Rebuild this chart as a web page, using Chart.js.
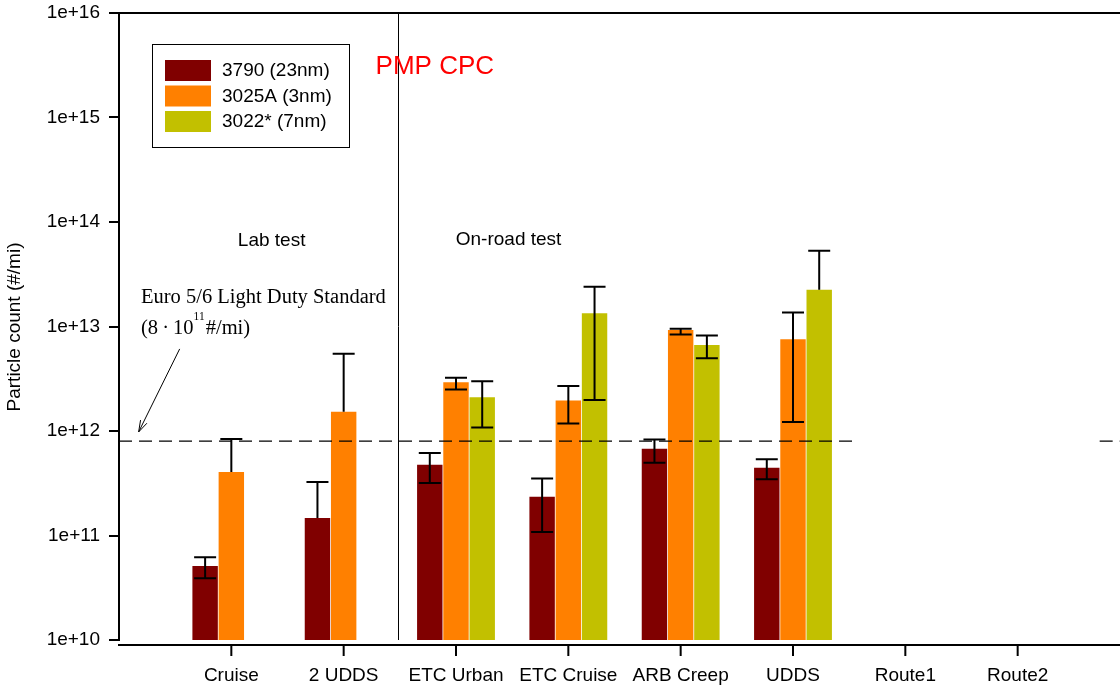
<!DOCTYPE html>
<html lang="en">
<head>
<meta charset="UTF-8">
<title>PMP CPC particle count</title>
<script src="https://cdn.jsdelivr.net/npm/chart.js"></script>
<style>
  * { margin: 0; padding: 0; box-sizing: border-box; }
  html, body { width: 1120px; height: 687px; overflow: hidden; background: #fff; }
  canvas { display: block; }
</style>
</head>
<body>
<canvas id="chart" width="1140" height="687"></canvas>
<script>
// categories on the x axis
const categories = ['Cruise', '2 UDDS', 'ETC Urban', 'ETC Cruise', 'ARB Creep', 'UDDS', 'Route1', 'Route2'];
const seriesNames = ['3790 (23nm)', '3025A (3nm)', '3022* (7nm)'];
const yTicks = [1e10, 1e11, 1e12, 1e13, 1e14, 1e15, 1e16];
const euroLimit = 8e11;

// bar heights (#/mi)
const cpc3790  = [5.1e10, 1.47e11, 4.76e11, 2.35e11, 6.77e11, 4.45e11, null, null];
const cpc3025A = [4.05e11, 1.53e12, 2.92e12, 1.96e12, 9.26e12, 7.54e12, null, null];
const cpc3022  = [null, null, 2.1e12, 1.34e13, 6.65e12, 2.25e13, null, null];

// error bar ends (null low = only the upper whisker is drawn)
const hi3790  = [6.2e10, 3.25e11, 6.16e11, 3.52e11, 8.3e11, 5.36e11, null, null];
const lo3790  = [3.9e10, null, 3.18e11, 1.08e11, 4.97e11, 3.45e11, null, null];
const hi3025A = [8.4e11, 5.5e12, 3.24e12, 2.69e12, 9.5e12, 1.36e13, null, null];
const lo3025A = [null, null, 2.5e12, 1.18e12, 8.4e12, 1.22e12, null, null];
const hi3022  = [null, null, 3.0e12, 2.4e13, 8.2e12, 5.3e13, null, null];
const lo3022  = [null, null, 1.08e12, 1.98e12, 4.97e12, null, null, null];

const colors = ['#800000', '#ff8000', '#c2c000'];
const SANS = '"Liberation Sans", Arial, sans-serif';
const SERIF = '"Liberation Serif", "Times New Roman", serif';

// blank slot before the first and after the last category
const pad = arr => [null, ...arr, null];
const labels = ['', ...categories, ''];

const datasets = [
  { data: cpc3790, hi: hi3790, lo: lo3790 },
  { data: cpc3025A, hi: hi3025A, lo: lo3025A },
  { data: cpc3022, hi: hi3022, lo: lo3022 }
].map((s, i) => ({
  label: seriesNames[i],
  data: pad(s.data),
  errHigh: pad(s.hi),
  errLow: pad(s.lo),
  backgroundColor: colors[i],
  borderWidth: 0,
  categoryPercentage: 0.7,
  barPercentage: 0.97
}));

const overlay = {
  id: 'overlay',
  afterDatasetsDraw(chart) {
    const { ctx, scales: { x, y } } = chart;
    ctx.save();
    ctx.strokeStyle = '#000';
    ctx.lineWidth = 2;
    // error bars
    chart.data.datasets.forEach((ds, i) => {
      chart.getDatasetMeta(i).data.forEach((bar, j) => {
        const hi = ds.errHigh[j];
        if (hi == null) return;
        const lo = ds.errLow[j];
        const yHi = y.getPixelForValue(hi);
        const yLo = lo == null ? bar.y : y.getPixelForValue(lo);
        ctx.beginPath();
        ctx.moveTo(bar.x, yHi);
        ctx.lineTo(bar.x, yLo);
        ctx.moveTo(bar.x - 11, yHi);
        ctx.lineTo(bar.x + 11, yHi);
        if (lo != null) {
          ctx.moveTo(bar.x - 11, yLo);
          ctx.lineTo(bar.x + 11, yLo);
        }
        ctx.stroke();
      });
    });
    // Euro 5/6 limit line
    const yl = y.getPixelForValue(euroLimit);
    ctx.lineWidth = 1.3;
    ctx.setLineDash([13, 7]);
    ctx.beginPath();
    ctx.moveTo(x.getPixelForValue(0), yl);
    ctx.lineTo(x.getPixelForValue(6.54), yl);
    ctx.moveTo(x.getPixelForValue(8.73), yl);
    ctx.lineTo(x.getPixelForValue(9), yl);
    ctx.stroke();
    ctx.restore();
  },
  afterDraw(chart) {
    const { ctx, chartArea: a, scales: { x, y } } = chart;
    ctx.save();
    ctx.strokeStyle = '#000';

    // top frame line
    ctx.lineWidth = 2;
    ctx.beginPath();
    ctx.moveTo(a.left - 1, a.top);
    ctx.lineTo(a.right, a.top);
    ctx.stroke();

    // detached x axis with tick marks
    const ax = a.bottom + 5;
    ctx.beginPath();
    ctx.moveTo(a.left - 1, ax);
    ctx.lineTo(a.right, ax);
    for (let i = 1; i <= categories.length; i++) {
      const px = x.getPixelForValue(i);
      ctx.moveTo(px, ax);
      ctx.lineTo(px, ax + 11);
    }
    ctx.stroke();

    // lab / on-road separator
    ctx.lineWidth = 1;
    const sx = Math.round(x.getPixelForValue(2.485)) + 0.5;
    ctx.beginPath();
    ctx.moveTo(sx, a.top);
    ctx.lineTo(sx, a.bottom);
    ctx.stroke();

    // legend box
    const lx = a.left + 33, ly = a.top + 31;
    ctx.strokeRect(lx + 0.5, ly + 0.5, 197, 103);
    ctx.font = '19px ' + SANS;
    ctx.textBaseline = 'middle';
    ctx.fillStyle = '#000';
    chart.data.datasets.forEach((ds, i) => {
      const ry = ly + 16 + i * 25.5;
      ctx.fillStyle = ds.backgroundColor;
      ctx.fillRect(lx + 13, ry, 46, 21);
      ctx.fillStyle = '#000';
      ctx.fillText(ds.label, lx + 70, ry + 11);
    });

    // annotations
    ctx.textAlign = 'center';
    ctx.fillText('Lab test', x.getPixelForValue(1.359), a.top + 228);
    ctx.fillText('On-road test', x.getPixelForValue(3.468), a.top + 227);
    ctx.textAlign = 'left';
    ctx.fillStyle = '#ff0000';
    ctx.font = '26px ' + SANS;
    ctx.fillText('PMP CPC', x.getPixelForValue(2.284), a.top + 54);

    ctx.fillStyle = '#000';
    ctx.textBaseline = 'alphabetic';
    ctx.font = '20.5px ' + SERIF;
    const tx = a.left + 22;
    ctx.fillText('Euro 5/6 Light Duty Standard', tx, a.top + 290);
    let cx = tx;
    const line2 = a.top + 321;
    const head = '(8\u2009\u00b7\u200910';
    ctx.fillText(head, cx, line2);
    cx += ctx.measureText(head).width;
    ctx.font = '11.5px ' + SERIF;
    ctx.fillText('11', cx, line2 - 14);
    cx += ctx.measureText('11').width + 1;
    ctx.font = '20.5px ' + SERIF;
    ctx.fillText('#/mi)', cx, line2);

    // arrow to the limit line
    const x0 = x.getPixelForValue(0.54), y0 = y.getPixelForValue(6.1e12);
    const x1 = x.getPixelForValue(0.175), y1 = y.getPixelForValue(9.8e11);
    const ang = Math.atan2(y1 - y0, x1 - x0);
    ctx.lineWidth = 1;
    ctx.beginPath();
    ctx.moveTo(x0, y0);
    ctx.lineTo(x1, y1);
    ctx.moveTo(x1 - 12 * Math.cos(ang - 0.3), y1 - 12 * Math.sin(ang - 0.3));
    ctx.lineTo(x1, y1);
    ctx.lineTo(x1 - 12 * Math.cos(ang + 0.3), y1 - 12 * Math.sin(ang + 0.3));
    ctx.stroke();

    // y axis title
    ctx.translate(15, (a.top + a.bottom) / 2 + 0.5);
    ctx.rotate(-Math.PI / 2);
    ctx.textAlign = 'center';
    ctx.textBaseline = 'middle';
    ctx.font = '19px ' + SANS;
    ctx.fillText('Particle count (#/mi)', 0, 0);
    ctx.restore();
  }
};

Chart.defaults.font.family = SANS;
Chart.defaults.color = '#000';

new Chart(document.getElementById('chart'), {
  type: 'bar',
  data: { labels, datasets },
  options: {
    responsive: false,
    animation: false,
    layout: { padding: { top: 13, right: 10, left: 0, bottom: 0 } },
    plugins: { legend: { display: false }, tooltip: { enabled: false } },
    scales: {
      x: {
        type: 'category',
        offset: false,
        grid: { display: false, drawTicks: false },
        border: { display: false },
        ticks: { color: '#000', font: { size: 19 }, padding: 24, autoSkip: false, maxRotation: 0 },
        afterFit: s => {
          s.height = 47;
          s.paddingLeft = 0; s.paddingRight = 0;
        }
      },
      y: {
        type: 'logarithmic',
        min: 1e10,
        max: 1e16,
        afterBuildTicks: s => { s.ticks = yTicks.map(v => ({ value: v })); },
        ticks: {
          color: '#000',
          font: { size: 19 },
          padding: 9,
          callback: v => '1e+' + Math.round(Math.log10(v))
        },
        grid: { drawOnChartArea: false, color: '#000', lineWidth: 2, tickLength: 10 },
        border: { display: true, color: '#000', width: 2 },
        afterFit: s => {
          s.width = 119;
          s.paddingTop = 0; s.paddingBottom = 0;
        }
      }
    }
  },
  plugins: [overlay]
});
</script>
</body>
</html>
